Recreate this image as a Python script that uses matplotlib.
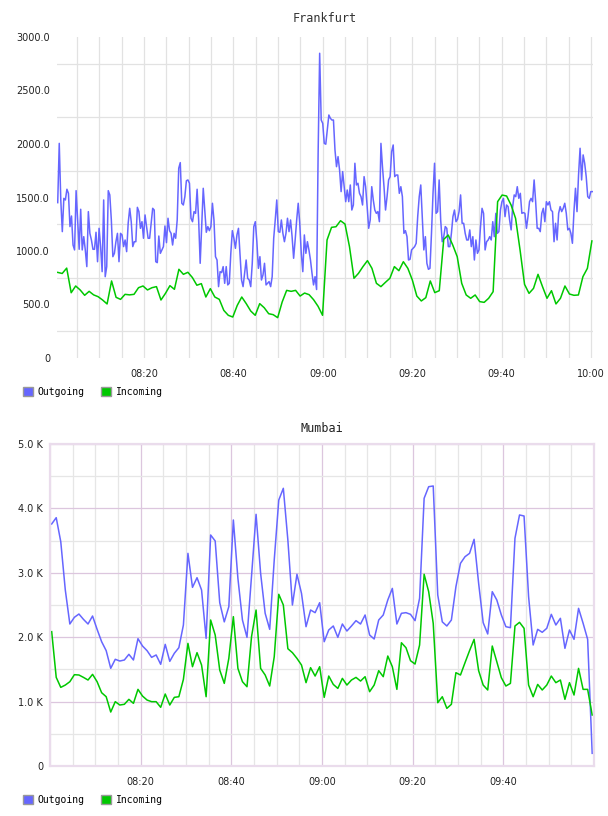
import pandas as pd
import matplotlib
matplotlib.use('Agg')
import matplotlib.pyplot as plt
import matplotlib.dates as mdates
from matplotlib.patches import Patch
from matplotlib.ticker import FixedLocator, FuncFormatter

# Frankfurt - outgoing (every ~20s) and incoming (every ~1 min)
fra_out = [1452, 2006, 1477, 1181, 1492, 1477, 1577, 1539, 1228, 1327, 1056, 1010, 1564, 1290, 1016, 1390,
           1010, 1134, 1010, 854, 1368, 1165, 1103, 1016, 1016, 1175, 900, 1212, 1041, 807, 1477, 760,
           854, 1564, 1524, 1290, 947, 978, 1087, 1165, 900, 1165, 1150, 1041, 1103, 994, 1259, 1399,
           1274, 1041, 1087, 1087, 1408, 1368, 1212, 1274, 1119, 1337, 1228, 1119, 1119, 1259, 1399, 1383,
           900, 891, 1140, 978, 1010, 1041, 1234, 1078, 1306, 1190, 1165, 1056, 1165, 1119, 1290, 1773,
           1826, 1446, 1430, 1508, 1657,
           1664, 1633, 1306, 1274, 1368, 1352, 1577, 1290, 885, 1228, 1586, 1383, 1175, 1228, 1190, 1228,
           1446, 1290, 947, 916, 667, 807, 798, 854, 698, 854, 683, 698, 978, 1190, 1119, 1025,
           1150, 1212, 978, 729, 667, 792, 916, 745, 729, 667, 885, 1228, 1274, 1087, 838, 947,
           729, 776, 885, 683, 698, 714, 667, 760, 1119, 1290, 1477, 1181, 1175, 1290, 1165, 1087,
           1165, 1306, 1181, 1290, 1134, 932, 1103, 1290, 1446, 1259, 978, 807, 1150, 978, 1087, 1010,
           916, 792, 683, 760, 640, 1913, 2848,
           2224, 2193, 2006, 1998, 2131, 2271, 2240, 2224, 2224, 1944, 1788, 1882, 1757, 1555, 1742, 1601,
           1461, 1570, 1461, 1617, 1383, 1430, 1820, 1617, 1633, 1539, 1508, 1430, 1695, 1601, 1415, 1212,
           1290, 1601, 1477, 1383, 1352, 1368, 1274, 2006, 1788, 1601, 1383, 1508, 1664, 1695, 1929, 1991,
           1695, 1710, 1710, 1539, 1601, 1508, 1165, 1190, 1134, 916, 922, 1010, 1025, 1041, 1072, 1321,
           1508, 1617, 1321, 1010, 1134, 885, 829, 838, 1165, 1539, 1820, 1352, 1368, 1664, 1290, 1087,
           1134, 1228, 1212, 1041, 1041, 1165, 1321,
           1383, 1274, 1296, 1368, 1524, 1259, 1259, 1165, 1103, 1103, 1197, 1041, 1134, 916, 1103, 978,
           1010, 1228, 1399, 1352, 1010, 1087, 1103, 1134, 1103, 1274, 1134, 1352, 1165, 1181, 1383, 1461,
           1492, 1321, 1430, 1415, 1290, 1197, 1415, 1524, 1508, 1601, 1492, 1539, 1352, 1359, 1352, 1212,
           1321, 1461, 1492, 1461, 1664, 1461, 1212, 1212, 1181, 1352, 1399, 1274, 1461, 1430, 1461, 1383,
           1368, 1087, 1259, 1103, 1352, 1415, 1368, 1399, 1446, 1352, 1197, 1212, 1165, 1072, 1368, 1586,
           1368, 1710, 1960, 1664, 1898, 1820, 1695, 1508, 1492, 1555, 1555]

fra_in = [800, 790, 840, 610, 673, 636, 586, 623, 590, 573, 542, 505, 720, 567, 548, 595,
          590, 595, 657, 673, 636, 657, 667, 542, 604, 676, 642, 829, 782, 801,
          752, 680, 695, 570, 648, 570, 548, 445, 399, 383, 492, 570, 508, 439, 399, 508,
          470, 414, 405, 377, 523, 632, 623, 632, 579, 607, 592, 545, 483, 399,
          1103, 1221, 1227, 1283, 1252, 1040, 745, 791, 854, 910, 838, 698, 667, 707, 745, 854,
          816, 900, 838, 729, 579, 533, 564, 720, 611, 629, 1109, 1149, 1056, 947, 698,
          589, 558, 589, 527, 520, 558, 620, 1461, 1523, 1514, 1430, 1305, 1009, 688, 604, 651,
          782, 667, 558, 629, 505, 558, 673, 598, 586, 589, 760, 838, 1094]

# Mumbai - both series every ~1 min
mum_out = [3758, 3856, 3483, 2733, 2205, 2309, 2360, 2277, 2205, 2329, 2122, 1930, 1791, 1517, 1657, 1630,
           1646, 1734, 1646, 1977, 1863, 1791, 1687, 1724, 1579, 1889, 1625, 1750, 1837, 2189, 3302, 2774,
           2924, 2733, 1982, 3587, 3494, 2536, 2238, 2474, 3820, 2914, 2267, 1998, 2950, 3908, 2992, 2371,
           2122, 3200, 4130, 4312, 3509, 2500, 2977, 2681, 2163, 2422, 2381, 2536, 1930, 2112, 2174, 1998,
           2205, 2096, 2174, 2257, 2205, 2345, 2034, 1972, 2267, 2345, 2578, 2758, 2205, 2371, 2381, 2355,
           2257, 2604, 4157, 4337, 4348, 2655, 2238, 2174, 2267, 2784, 3147, 3250, 3302, 3520, 2837, 2226,
           2050, 2707, 2578, 2345, 2163, 2148, 3536, 3898, 3882, 2630, 1879, 2122, 2076, 2138, 2355, 2189,
           2293, 1827, 2112, 1967, 2448, 2216, 1967, 197]

mum_in = [2086, 1376, 1221, 1257, 1309, 1418, 1413, 1376, 1335, 1423, 1309, 1138, 1076, 838, 999, 947,
          958, 1035, 973, 1190, 1086, 1024, 999, 999, 911, 1118, 947, 1066, 1076, 1345, 1904, 1542,
          1760, 1568, 1076, 2267, 2034, 1490, 1283, 1671, 2319, 1516, 1309, 1231, 2008, 2422, 1516, 1413,
          1242, 1697, 2666, 2500, 1821, 1760, 1671, 1568, 1294, 1527, 1397, 1542, 1066, 1397, 1267, 1205,
          1361, 1257, 1335, 1376, 1319, 1387, 1154, 1257, 1480, 1387, 1708, 1542, 1190, 1914, 1837, 1635,
          1583, 1878, 2977, 2707, 2216, 983, 1076, 895, 958, 1449, 1413, 1604, 1791, 1967, 1480, 1257,
          1180, 1863, 1619, 1371, 1242, 1283, 2174, 2231, 2138, 1257, 1076, 1267, 1180, 1257, 1397, 1294,
          1335, 1035, 1294, 1102, 1516, 1190, 1190, 792]

BLUE = '#6666ff'
GREEN = '#00c800'
day = pd.Timestamp('2024-01-01 08:00')


def t(minutes):
    return day + pd.Timedelta(minutes=minutes)


fig = plt.figure(figsize=(6.08, 8.16), dpi=100)

# ---- Frankfurt ----
ax1 = fig.add_axes([57 / 608, 1 - 358 / 816, 536 / 608, 321 / 816])
ax1.plot(pd.date_range(t(0.7), t(120.3), periods=len(fra_out)), fra_out, color=BLUE, lw=1.1)
ax1.plot(pd.date_range(t(0.7), t(120.2), periods=len(fra_in)), fra_in, color=GREEN, lw=1.1)
ax1.set_xlim(t(0.54), t(120.45))
ax1.set_ylim(0, 3000)
ax1.xaxis.set_major_locator(mdates.MinuteLocator(byminute=[0, 20, 40]))
ax1.xaxis.set_minor_locator(mdates.MinuteLocator(byminute=range(0, 60, 5)))
ax1.xaxis.set_major_formatter(mdates.DateFormatter('%H:%M'))
ax1.set_yticks(range(0, 3001, 500))
ax1.yaxis.set_minor_locator(FixedLocator(range(250, 3000, 500)))
ax1.yaxis.set_major_formatter(FuncFormatter(lambda v, p: '0' if v == 0 else '%.1f' % v))
ax1.grid(which='both', axis='x', color='#e2e2e2', lw=0.9)
ax1.grid(which='minor', axis='y', color='#e2e2e2', lw=0.9)
for s in ax1.spines.values():
    s.set_visible(False)
ax1.set_title('Frankfurt', fontsize=8.5, family='DejaVu Sans Mono', color='#333333', pad=11)

# ---- Mumbai ----
ax2 = fig.add_axes([50 / 608, 50 / 816, 544 / 608, 322 / 816])
ax2.plot(pd.date_range(t(0.37), t(119.6), periods=len(mum_out)), mum_out, color=BLUE, lw=1.1)
ax2.plot(pd.date_range(t(0.37), t(119.6), periods=len(mum_in)), mum_in, color=GREEN, lw=1.1)
ax2.set_xlim(t(0), t(120))
ax2.set_ylim(0, 5000)
ax2.set_xticks([t(m) for m in [20, 40, 60, 80, 100]])
ax2.xaxis.set_minor_locator(mdates.MinuteLocator(byminute=range(0, 60, 5)))
ax2.xaxis.set_major_formatter(mdates.DateFormatter('%H:%M'))
ax2.set_yticks(range(0, 5001, 1000))
ax2.yaxis.set_minor_locator(FixedLocator(range(500, 5000, 1000)))
ax2.yaxis.set_major_formatter(FuncFormatter(lambda v, p: '0' if v == 0 else '%.1f K' % (v / 1000)))
ax2.grid(which='major', color='#dcc6de', lw=0.9)
ax2.grid(which='minor', color='#e6e6e6', lw=0.9)
for s in ax2.spines.values():
    s.set_color('#eadcec')
    s.set_linewidth(1.6)
ax2.set_title('Mumbai', fontsize=8.5, family='DejaVu Sans Mono', color='#222222', pad=9)

for ax in (ax1, ax2):
    ax.set_axisbelow(True)
    ax.tick_params(which='both', length=0, labelsize=7, colors='#222222')
    ax.tick_params(axis='x', pad=8)
    ax.tick_params(axis='y', pad=5)

# legends below each panel
handles = [Patch(facecolor=BLUE, edgecolor='#999999', lw=1, label='Outgoing'),
           Patch(facecolor=GREEN, edgecolor='#999999', lw=1, label='Incoming')]
for ypix in (392, 800):
    fig.legend(handles=handles, loc='center left', bbox_to_anchor=(23 / 608, 1 - ypix / 816),
               ncol=2, frameon=False, borderpad=0, borderaxespad=0, handlelength=1.0,
               handleheight=1.0, handletextpad=0.5, columnspacing=1.7,
               prop={'family': 'DejaVu Sans Mono', 'size': 7})

fig.savefig('out.png', dpi=100)
